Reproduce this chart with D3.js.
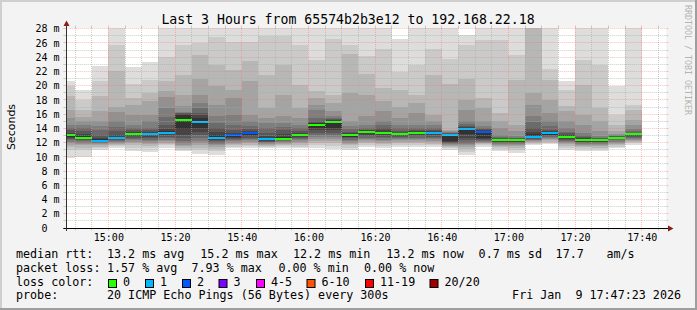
<!DOCTYPE html>
<html>
<head>
<meta charset="utf-8">
<script src="https://cdn.jsdelivr.net/npm/d3@7"></script>
<style>
  body { margin: 0; background: #f3f3f3; }
  svg { display: block; }
  text { font-family: "DejaVu Sans Mono", monospace; fill: #000; }
</style>
</head>
<body>
<svg width="697" height="310"></svg>
<script>
// 5 minute slots (start time of each bucket)
const slotTimes = ["14:45","14:50","14:55","15:00","15:05","15:10","15:15","15:20","15:25","15:30",
  "15:35","15:40","15:45","15:50","15:55","16:00","16:05","16:10","16:15","16:20",
  "16:25","16:30","16:35","16:40","16:45","16:50","16:55","17:00","17:05","17:10",
  "17:15","17:20","17:25","17:30","17:35"];

// 20 sorted ping times per slot, ms
const pings = [
  [9.8,10.9,11.4,11.7,11.9,12.1,12.3,12.5,12.7,12.85,13.2,13.4,13.7,14.0,14.5,15.4,16.6,18.6,19.9,20.6],
  [10.0,10.9,11.3,11.6,11.8,12.0,12.2,12.35,12.5,12.6,12.95,13.2,13.6,14.1,14.5,15.0,15.6,16.6,18.0,19.4],
  [10.9,11.2,11.4,11.6,11.75,11.9,12.0,12.1,12.15,12.2,12.45,12.7,13.1,13.7,14.3,15.0,16.4,18.5,20.6,22.8],
  [11.3,11.5,11.7,11.85,12.0,12.1,12.25,12.4,12.5,12.6,12.85,13.0,13.6,14.2,15.0,16.3,17.0,22.0,25.7,28.6],
  [10.8,11.3,11.6,11.9,12.1,12.3,12.5,12.7,12.9,13.05,13.4,13.5,13.7,14.0,14.5,15.9,17.3,18.2,20.3,22.6],
  [10.7,11.2,11.5,11.8,12.0,12.2,12.4,12.6,12.8,13.0,13.4,13.5,13.7,14.0,15.0,15.9,17.8,18.9,20.8,23.3],
  [11.3,11.6,11.8,12.0,12.2,12.4,12.6,12.8,13.0,13.2,13.6,13.9,14.5,15.6,16.8,18.4,19.2,20.6,24.0,28.6],
  [10.75,11.0,11.3,11.5,11.7,11.9,12.2,12.6,13.1,13.9,15.9,16.0,16.1,16.2,16.3,17.1,18.7,21.5,25.7,28.6],
  [10.4,10.9,11.3,11.6,11.9,12.2,12.6,13.0,13.5,14.0,15.5,15.9,16.2,16.8,17.5,18.7,21.0,24.3,26.0,28.6],
  [10.3,10.8,11.1,11.4,11.6,11.8,12.0,12.2,12.35,12.5,13.1,13.5,14.0,14.7,15.7,17.3,19.9,22.9,26.9,28.6],
  [11.2,11.4,11.6,11.8,12.0,12.2,12.35,12.5,12.65,12.8,13.2,13.4,13.8,14.5,15.9,18.2,19.4,22.2,26.2,28.6],
  [11.2,11.5,11.7,11.9,12.1,12.3,12.5,12.7,12.9,13.1,13.4,13.6,13.9,14.3,15.0,15.9,20.6,23.4,26.2,28.6],
  [11.2,11.4,11.55,11.7,11.85,11.95,12.05,12.15,12.25,12.3,12.6,12.9,13.3,14.0,14.7,15.5,16.8,21.5,27.0,28.6],
  [11.3,11.5,11.65,11.8,11.95,12.1,12.2,12.3,12.4,12.5,12.8,13.2,13.7,14.2,14.8,15.7,18.7,22.9,27.0,28.6],
  [11.2,11.45,11.7,11.9,12.1,12.3,12.5,12.65,12.8,12.9,13.2,13.3,13.6,14.0,14.5,15.5,16.8,20.1,25.7,28.6],
  [11.2,11.6,11.9,12.2,12.5,12.8,13.1,13.4,13.7,14.0,14.7,14.8,15.0,15.4,16.6,17.3,18.2,19.2,23.6,28.6],
  [11.1,11.5,11.9,12.2,12.5,12.8,13.1,13.4,13.7,14.1,15.1,15.2,15.3,15.4,15.7,16.4,17.5,18.7,26.6,28.6],
  [11.0,11.3,11.6,11.8,12.0,12.2,12.4,12.6,12.75,12.85,13.15,13.3,13.5,13.9,14.3,15.0,18.9,24.5,25.7,28.6],
  [11.45,11.7,11.9,12.1,12.3,12.5,12.7,12.9,13.1,13.3,13.65,13.7,13.8,14.0,14.5,15.7,18.7,21.7,24.1,28.6],
  [11.2,11.5,11.8,12.0,12.2,12.4,12.6,12.8,13.0,13.2,13.5,13.7,14.0,14.5,15.0,16.4,17.8,19.6,25.2,28.6],
  [11.45,11.7,11.9,12.1,12.3,12.5,12.65,12.8,12.9,13.0,13.25,13.4,13.6,14.0,14.5,15.5,17.0,19.4,21.9,26.6],
  [11.45,11.7,11.9,12.1,12.3,12.5,12.7,12.9,13.05,13.2,13.5,13.6,13.7,14.0,14.5,16.1,17.5,18.7,22.9,28.6],
  [11.45,11.65,11.85,12.05,12.25,12.45,12.65,12.85,13.0,13.15,13.5,13.6,13.8,14.1,14.5,15.0,15.9,21.5,25.2,28.6],
  [11.0,11.2,11.4,11.55,11.7,11.8,11.9,12.0,12.1,12.2,13.15,13.2,13.3,13.4,13.5,13.6,13.8,20.3,23.8,28.6],
  [10.2,10.7,11.1,11.4,11.6,11.8,12.0,12.3,12.7,13.2,14.1,14.2,14.3,14.6,15.0,16.6,18.0,21.0,25.7,27.1],
  [11.45,11.6,11.75,11.9,12.0,12.1,12.2,12.3,12.45,12.6,13.65,13.75,13.85,14.0,14.3,15.0,16.8,18.2,26.4,28.6],
  [10.75,11.1,11.35,11.55,11.7,11.85,11.95,12.05,12.15,12.2,12.4,12.5,12.6,12.8,13.1,14.0,15.0,16.1,26.4,28.6],
  [10.6,11.0,11.3,11.5,11.7,11.85,11.95,12.05,12.15,12.2,12.4,12.5,12.6,12.7,12.9,13.6,14.5,20.8,24.3,28.6],
  [11.7,11.85,12.0,12.1,12.2,12.3,12.4,12.5,12.6,12.7,13.2,13.5,14.0,14.9,15.7,17.3,18.9,28.6,28.8,29.0],
  [11.8,12.0,12.15,12.3,12.45,12.6,12.75,12.9,13.0,13.1,13.5,13.6,13.8,14.3,15.0,16.1,18.0,20.8,22.4,28.6],
  [11.0,11.3,11.55,11.75,11.95,12.1,12.25,12.4,12.55,12.7,13.0,13.1,13.3,13.5,14.0,15.0,16.4,17.1,19.4,20.6],
  [10.75,11.1,11.35,11.55,11.7,11.85,11.95,12.05,12.15,12.2,12.45,12.6,12.8,13.0,13.4,14.5,15.9,20.1,23.6,28.6],
  [10.75,11.05,11.3,11.5,11.65,11.8,11.95,12.05,12.15,12.2,12.45,12.5,12.6,12.7,12.9,13.6,15.0,16.8,22.9,28.6],
  [11.2,11.45,11.65,11.85,12.0,12.15,12.3,12.45,12.55,12.65,12.8,12.85,12.9,12.95,13.0,13.2,13.6,14.5,15.9,19.9],
  [11.7,11.9,12.05,12.2,12.35,12.5,12.65,12.8,12.9,13.0,13.25,13.3,13.4,13.6,13.9,14.5,15.2,16.6,17.3,28.6]
];

// median rtt per slot, ms
const medians = [13.0,12.7,12.25,12.7,13.2,13.2,13.4,15.2,14.95,12.7,13.0,13.3,12.45,12.55,13.0,14.5,14.95,13.0,
  13.55,13.4,13.15,13.4,13.4,13.05,13.95,13.55,12.3,12.3,12.85,13.3,12.85,12.3,12.3,12.7,13.15];

// lost pings per slot (index into loss colour table)
const lossIdx = [0,0,1,1,0,1,1,0,1,1,2,2,1,0,0,0,0,0,0,0,0,0,1,1,1,2,0,0,1,1,0,0,0,0,0];

const lossLabels = ["0","1","2","3","4-5","6-10","11-19","20/20"];
const lossColors = ["#26ff00","#00b8ff","#0059ff","#7e00ff","#ff00ff","#ff5500","#ff0000","#a10000"];

const xTickLabels = ["15:00","15:20","15:40","16:00","16:20","16:40","17:00","17:20","17:40"];
const yTicks = [0,2,4,6,8,10,12,14,16,18,20,22,24,26,28];

const rttStats = ["13.2 ms avg","15.2 ms max","12.2 ms min","13.2 ms now","0.7 ms sd","17.7","am/s"];
const lossStats = ["1.57 % avg","7.93 % max","0.00 % min","0.00 % now"];

const title = "Last 3 Hours from 65574b2b3e12 to 192.168.22.18";
const probeText = "20 ICMP Echo Pings (56 Bytes) every 300s";
const stamp = "Fri Jan  9 17:47:23 2026";

// smoke shades, outer pair first
const greys = ["#dddddd","#cacaca","#b7b7b7","#a4a4a4","#919191","#7e7e7e","#6b6b6b","#585858","#454545","#323232"];

const svg = d3.select("svg");
const W = 697, H = 310;
const pLeft = 66.3, pRight = 666.3, pTop = 28, pBottom = 228;

const parseT = d3.timeParse("%H:%M:%S");
const parseHM = d3.timeParse("%H:%M");

const x = d3.scaleTime()
    .domain([parseT("14:47:23"), parseT("17:47:23")])
    .range([pLeft, pRight]);

const y = d3.scaleLinear()
    .domain([0, 28.1])
    .range([pBottom, pTop]);

// frame
svg.append("rect").attr("width", W).attr("height", H).attr("fill", "#f3f3f3");
svg.append("rect").attr("x", 0).attr("y", 0).attr("width", W).attr("height", 2).attr("fill", "#cfcfcf");
svg.append("rect").attr("x", 0).attr("y", 0).attr("width", 2).attr("height", H).attr("fill", "#cfcfcf");
svg.append("rect").attr("x", 0).attr("y", H - 2).attr("width", W).attr("height", 2).attr("fill", "#9e9e9e");
svg.append("rect").attr("x", W - 2).attr("y", 0).attr("width", 2).attr("height", H).attr("fill", "#9e9e9e");

// canvas
svg.append("rect")
    .attr("x", pLeft).attr("y", pTop)
    .attr("width", pRight - pLeft).attr("height", pBottom - pTop)
    .attr("fill", "#fff");

svg.append("clipPath").attr("id", "plotclip")
  .append("rect")
    .attr("x", pLeft).attr("y", pTop)
    .attr("width", pRight - pLeft).attr("height", pBottom - pTop);

// smoke bands
let bands = [];
pings.forEach((p, c) => {
    const t0 = parseHM(slotTimes[c]);
    const t1 = d3.timeMinute.offset(t0, 5);
    for (let i = 0; i < 10; i++) {
        bands.push({ t0: t0, t1: t1, lo: p[i], hi: p[19 - i], shade: greys[i] });
    }
});

const plot = svg.append("g").attr("clip-path", "url(#plotclip)");

plot.selectAll("rect.smoke")
  .data(bands)
  .join("rect")
    .attr("class", "smoke")
    .attr("x", d => x(d.t0))
    .attr("width", d => x(d.t1) - x(d.t0))
    .attr("y", d => y(d.hi))
    .attr("height", d => y(d.lo) - y(d.hi))
    .attr("fill", d => d.shade)
    .attr("shape-rendering", "crispEdges");

// median, coloured by loss
plot.selectAll("rect.median")
  .data(medians)
  .join("rect")
    .attr("class", "median")
    .attr("x", (d, i) => x(parseHM(slotTimes[i])))
    .attr("width", (d, i) => x(d3.timeMinute.offset(parseHM(slotTimes[i]), 5)) - x(parseHM(slotTimes[i])))
    .attr("y", d => y(d) - 1)
    .attr("height", 2)
    .attr("fill", (d, i) => lossColors[lossIdx[i]])
    .attr("shape-rendering", "crispEdges");

// grid
const minorCol = "rgba(170,170,170,0.6)";
const majorCol = "rgba(255,110,110,0.45)";
const px = v => Math.floor(v) + 0.5;

const grid = svg.append("g");
const majorTimes = xTickLabels.map(parseHM);
const minorTimes = x.ticks(d3.timeMinute.every(5))
    .filter(t => !majorTimes.some(m => +m === +t));

function vline(t, col) {
    const xp = px(x(t));
    grid.append("line").attr("x1", xp).attr("x2", xp).attr("y1", pTop).attr("y2", pBottom)
        .attr("stroke", col).attr("stroke-dasharray", "1,1");
    grid.append("line").attr("x1", xp).attr("x2", xp).attr("y1", pBottom).attr("y2", pBottom + 2.5)
        .attr("stroke", col);
    grid.append("line").attr("x1", xp).attr("x2", xp).attr("y1", pTop - 2.5).attr("y2", pTop)
        .attr("stroke", col);
}
minorTimes.forEach(t => vline(t, minorCol));
majorTimes.forEach(t => vline(t, majorCol));

function hline(v, col) {
    const yp = px(y(v));
    grid.append("line").attr("x1", pLeft).attr("x2", pRight).attr("y1", yp).attr("y2", yp)
        .attr("stroke", col).attr("stroke-dasharray", "1,1");
    grid.append("line").attr("x1", pLeft - 3).attr("x2", pLeft).attr("y1", yp).attr("y2", yp)
        .attr("stroke", col);
    grid.append("line").attr("x1", pRight).attr("x2", pRight + 2).attr("y1", yp).attr("y2", yp)
        .attr("stroke", col);
}
y.ticks(28).filter(v => v > 0 && v % 2 !== 0).forEach(v => hline(v, minorCol));
yTicks.filter(v => v > 0).forEach(v => hline(v, majorCol));

// axes lines + arrows
svg.append("line").attr("x1", pLeft - 3).attr("x2", pRight + 4).attr("y1", pBottom + 0.5).attr("y2", pBottom + 0.5)
    .attr("stroke", "#000");
svg.append("line").attr("x1", 66.5).attr("x2", 66.5).attr("y1", pBottom + 3).attr("y2", pTop - 4)
    .attr("stroke", "#333");
svg.append("path").attr("d", "M63.5,26L69.5,26L66.5,20.5Z").attr("fill", "#8b1c1c");
svg.append("path").attr("d", "M668,225.5L668,231.5L673.5,228.5Z").attr("fill", "#8b1c1c");

// y labels
const yAxis = d3.axisLeft(y)
    .tickValues(yTicks)
    .tickSize(0)
    .tickPadding(7)
    .tickFormat(d => d === 0 ? "0" : d + " m");

svg.append("g")
    .attr("transform", "translate(66.5,0)")
    .call(yAxis)
    .call(g => g.select(".domain").remove())
    .call(g => g.selectAll("text")
        .attr("font-family", "DejaVu Sans Mono")
        .attr("font-size", 10)
        .attr("fill", "#000")
        .attr("dx", d => d === 0 ? -12 : 0));

// x labels
const xAxis = d3.axisBottom(x)
    .tickValues(majorTimes)
    .tickSize(0)
    .tickPadding(5)
    .tickFormat(d3.timeFormat("%H:%M"));

svg.append("g")
    .attr("transform", `translate(0,${pBottom + 0.5})`)
    .call(xAxis)
    .call(g => g.select(".domain").remove())
    .call(g => g.selectAll("text")
        .attr("font-family", "DejaVu Sans Mono")
        .attr("font-size", 10)
        .attr("fill", "#000"));

// title
svg.append("text")
    .attr("x", 348).attr("y", 23.5)
    .attr("text-anchor", "middle")
    .attr("font-size", 13.2)
    .text(title);

// y axis title
svg.append("text")
    .attr("transform", "translate(15,127) rotate(-90)")
    .attr("text-anchor", "middle")
    .attr("font-size", 11)
    .style("font-family", "DejaVu Sans")
    .text("Seconds");

// watermark
svg.append("text")
    .attr("transform", "translate(684.5,5) rotate(90)")
    .attr("font-size", 8.3)
    .style("fill", "#b4b4b4")
    .text("RRDTOOL / TOBI OETIKER");

// legend
const lg = svg.append("g").attr("font-size", 11.7);
const rowY = [258, 271.8, 285.6, 299.4];

lg.append("text").attr("x", 16).attr("y", rowY[0]).text("median rtt:");
const rttX = [107, 200.3, 293, 386.3, 478.6, 555.6, 606.4];
rttStats.forEach((s, i) => lg.append("text").attr("x", rttX[i]).attr("y", rowY[0]).text(s));

lg.append("text").attr("x", 16).attr("y", rowY[1]).text("packet loss:");
const lossX = [107, 191.5, 278.4, 364];
lossStats.forEach((s, i) => lg.append("text").attr("x", lossX[i]).attr("y", rowY[1]).text(s));

lg.append("text").attr("x", 16).attr("y", rowY[2]).text("loss color:");
const swX = [108.5, 145.5, 182.5, 219, 256.5, 307, 365.5, 430];
lossLabels.forEach((s, i) => {
    lg.append("rect")
        .attr("x", swX[i]).attr("y", 279.5)
        .attr("width", 8).attr("height", 8)
        .attr("fill", lossColors[i])
        .attr("stroke", "#000").attr("stroke-width", 1);
    lg.append("text").attr("x", swX[i] + 14.5).attr("y", rowY[2]).text(s);
});

lg.append("text").attr("x", 16).attr("y", rowY[3]).text("probe:");
lg.append("text").attr("x", 107).attr("y", rowY[3]).text(probeText);
lg.append("text").attr("x", 681).attr("y", rowY[3])
    .attr("text-anchor", "end")
    .style("white-space", "pre")
    .text(stamp);
</script>
</body>
</html>
